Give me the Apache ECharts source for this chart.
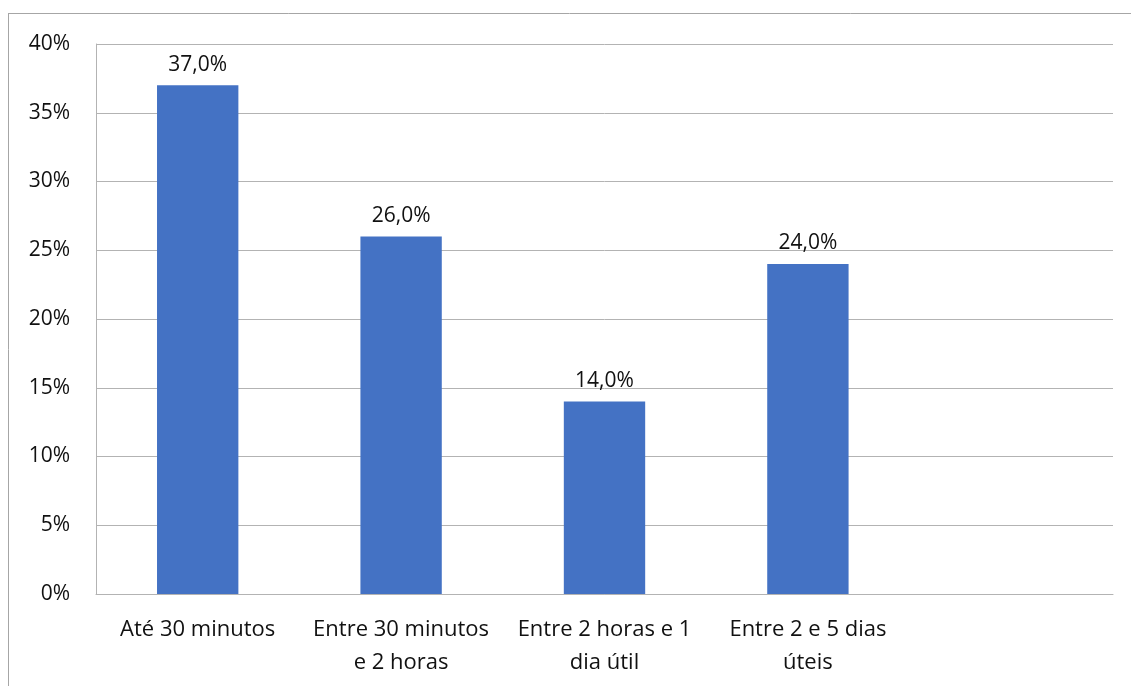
<!DOCTYPE html>
<html>
<head>
<meta charset="utf-8">
<script src="https://cdn.jsdelivr.net/npm/echarts@6/dist/echarts.min.js"></script>
<style>
  html, body { margin: 0; padding: 0; background: #fff; }
  #chart { width: 1131px; height: 686px; }
</style>
</head>
<body>
<div id="chart"></div>
<script>
// categorias (a última fica vazia, como no original)
const categories = [
  "Até 30 minutos",
  "Entre 30 minutos\ne 2 horas",
  "Entre 2 horas e 1\ndia útil",
  "Entre 2 e 5 dias\núteis",
  ""
];
const values = [37.0, 26.0, 14.0, 24.0, null];
const yMin = 0, yMax = 40, yStep = 5;

const fontFam = "'Open Sans', 'Noto Sans', sans-serif";
const textColor = "#111";

let myChart = echarts.init(document.getElementById("chart"));
let option = {
  backgroundColor: "#fff",
  animation: false,
  grid: { left: 96, right: 18, top: 44, bottom: 92, containLabel: false },
  graphic: [
    { type: "line", shape: { x1: 8, y1: 13.5, x2: 1131, y2: 13.5 }, style: { stroke: "#a6a6a6", lineWidth: 1 } },
    { type: "line", shape: { x1: 8.5, y1: 13, x2: 8.5, y2: 686 }, style: { stroke: "#a6a6a6", lineWidth: 1 } }
  ],
  xAxis: {
    type: "category",
    data: categories,
    axisTick: { show: false },
    axisLine: { show: true, lineStyle: { color: "#b3b3b3", width: 1 } },
    axisLabel: {
      color: textColor, fontFamily: fontFam, fontSize: 22,
      margin: 19, lineHeight: 33, interval: 0
    }
  },
  yAxis: {
    type: "value",
    min: yMin, max: yMax, interval: yStep,
    axisLine: { show: true, lineStyle: { color: "#b3b3b3", width: 1 } },
    axisTick: { show: false },
    splitLine: { lineStyle: { color: "#b3b3b3", width: 1 } },
    axisLabel: {
      color: textColor, fontFamily: fontFam, fontSize: 21, margin: 26,
      formatter: (v) => v + "%"
    }
  },
  series: [
    {
      type: "bar",
      data: values,
      barWidth: "40%",
      itemStyle: { color: "#4472C4" },
      label: {
        show: true,
        position: "top",
        distance: 10,
        color: textColor, fontFamily: fontFam, fontSize: 21,
        formatter: (p) => p.value.toFixed(1).replace(".", ",") + "%"
      }
    }
  ]
};
option && myChart.setOption(option);
</script>
</body>
</html>
